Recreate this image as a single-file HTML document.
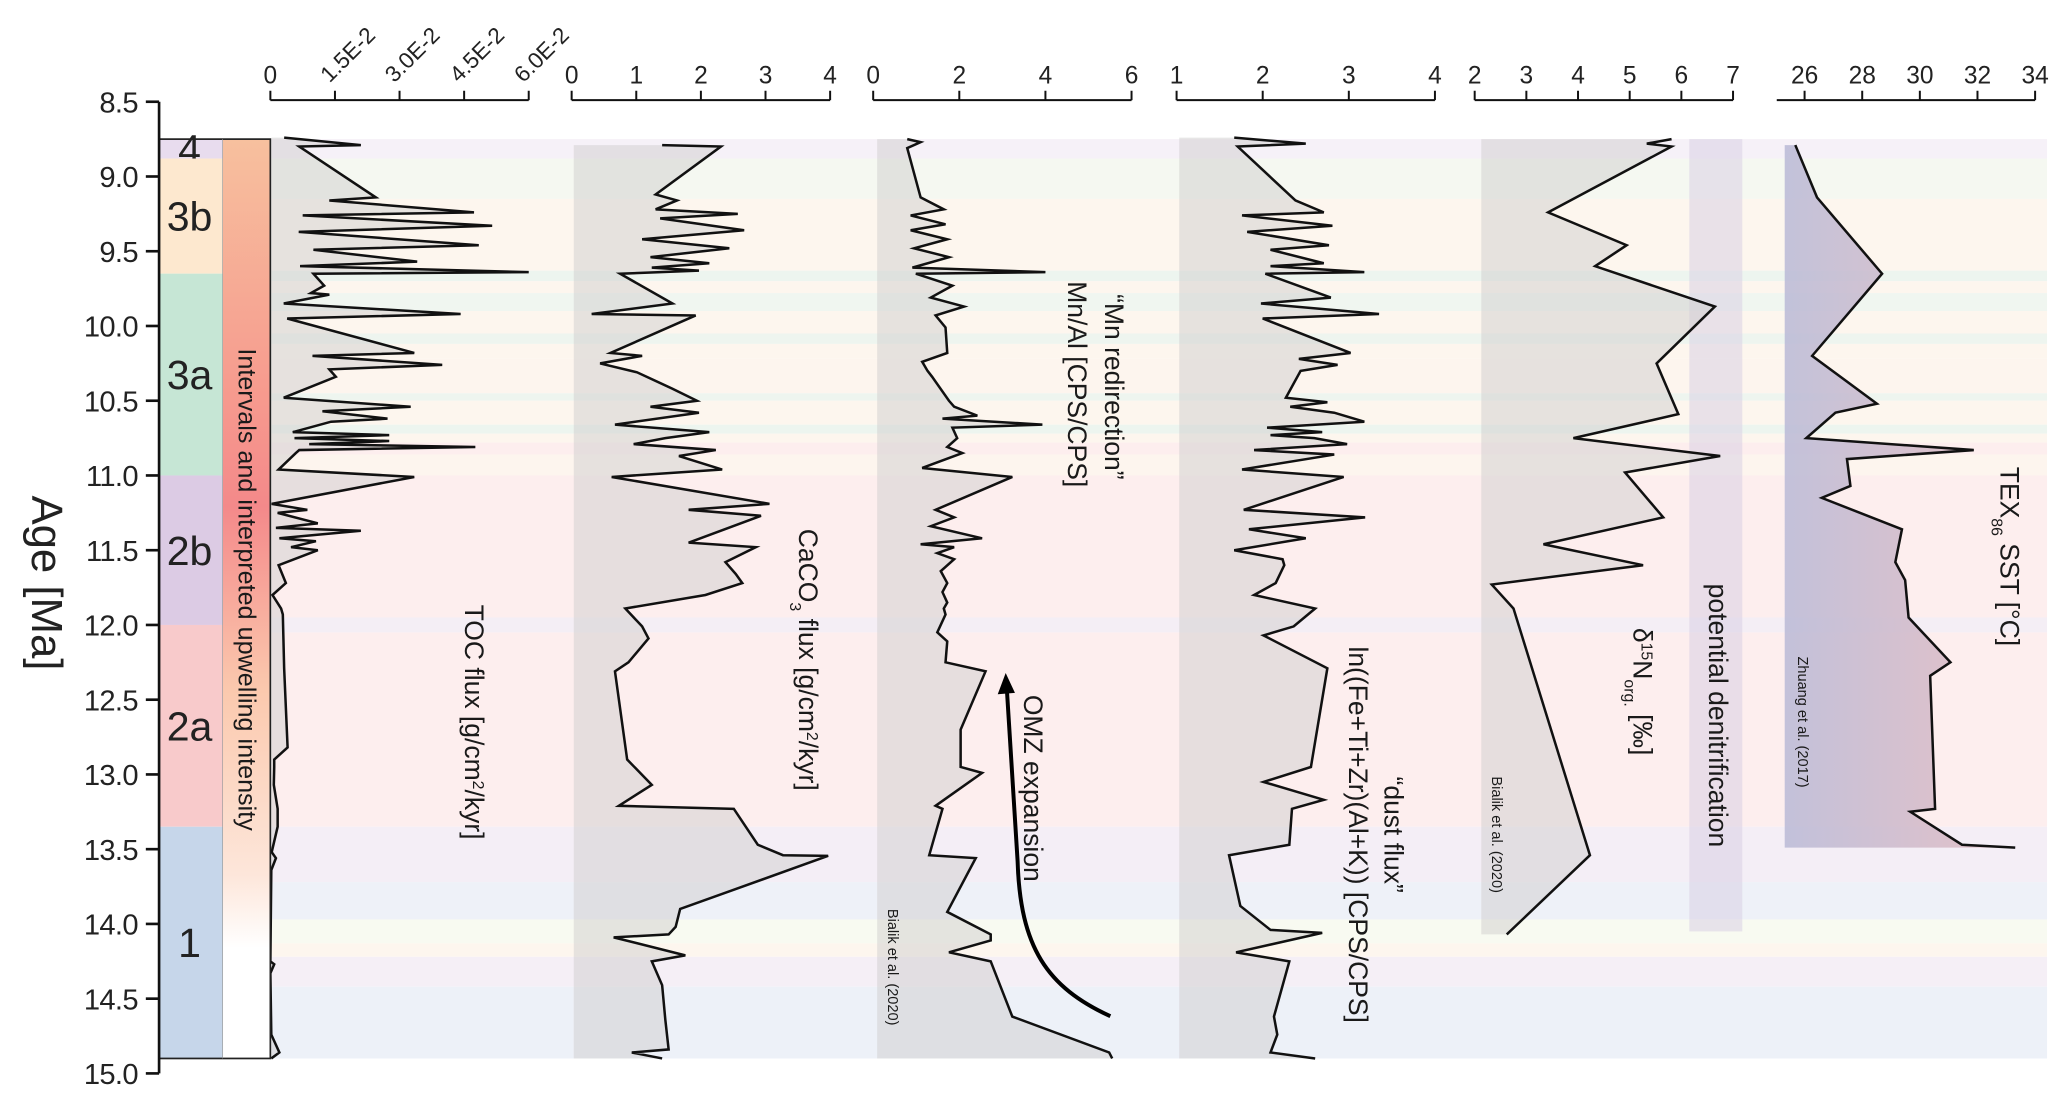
<!DOCTYPE html>
<html><head><meta charset="utf-8"><style>
html,body{margin:0;padding:0;background:#fff;}
svg{display:block;font-family:"Liberation Sans",sans-serif;}
</style></head><body>
<svg id="fig" width="2067" height="1097" viewBox="0 0 1560 828" xmlns="http://www.w3.org/2000/svg">
<defs>
<linearGradient id="upg" x1="0" y1="0" x2="0" y2="1">
<stop offset="0" stop-color="#f7c09e"/><stop offset="0.28" stop-color="#f69a8e"/><stop offset="0.4" stop-color="#f4898a"/><stop offset="0.6" stop-color="#fbc9ae"/><stop offset="0.8" stop-color="#fde6da"/><stop offset="0.88" stop-color="#ffffff"/><stop offset="1" stop-color="#ffffff"/>
</linearGradient>
<linearGradient id="texg" x1="0" y1="0" x2="1" y2="0">
<stop offset="0" stop-color="#b9b9d6"/><stop offset="1" stop-color="#e2b9bf"/>
</linearGradient>
</defs>
<g id="bands"></g>
<g id="panels"></g>
<g id="axes"></g>
<g id="labels"></g>
</svg>
<script>
const NS="http://www.w3.org/2000/svg";
// ---- data (ages in Ma, values in axis units) ----
const tocAge=[8.74,8.79,8.80,9.14,9.16,9.24,9.26,9.33,9.37,9.46,9.49,9.57,9.60,9.64,9.65,9.73,9.78,9.79,9.85,9.92,9.95,10.18,10.20,10.26,10.29,10.34,10.48,10.54,10.57,10.62,10.64,10.71,10.73,10.75,10.77,10.79,10.81,10.83,10.85,10.96,11.01,11.19,11.23,11.25,11.32,11.35,11.37,11.42,11.44,11.48,11.50,11.60,11.72,11.80,11.89,11.93,12.29,12.82,12.90,12.95,13.07,13.23,13.35,13.52,13.56,13.64,14.25,14.27,14.33,14.74,14.86,14.90];
const tocVal=[0.32,2.10,0.67,2.45,1.37,4.73,0.75,5.15,0.66,4.84,1.00,3.41,0.69,6.0,1.0,1.25,0.94,1.37,0.31,4.42,0.39,3.34,0.98,3.99,1.37,1.52,0.31,3.26,1.21,2.72,1.41,0.52,2.76,0.56,2.76,0.90,4.76,0.67,0.59,0.19,3.34,0.03,0.86,0.17,1.10,0.13,2.10,0.21,1.06,0.48,1.10,0.19,0.36,0.05,0.25,0.29,0.32,0.40,0.09,0.09,0.08,0.17,0.17,0.03,0.13,0.02,0.0,0.09,0.0,0.02,0.21,0.02];
const caAge=[8.79,8.80,9.12,9.16,9.22,9.25,9.28,9.36,9.42,9.48,9.54,9.58,9.61,9.63,9.65,9.85,9.92,9.93,10.18,10.20,10.25,10.31,10.42,10.50,10.54,10.58,10.66,10.71,10.75,10.79,10.83,10.87,10.96,11.01,11.19,11.23,11.27,11.45,11.48,11.58,11.66,11.72,11.80,11.89,12.01,12.09,12.25,12.31,12.90,13.07,13.21,13.23,13.47,13.54,13.545,13.90,14.02,14.07,14.09,14.21,14.25,14.41,14.64,14.84,14.86,14.90];
const caVal=[1.40,2.31,1.30,1.63,1.30,2.57,1.37,2.67,1.09,2.44,1.22,2.13,1.24,1.97,0.75,1.56,0.31,1.92,0.60,1.09,0.44,1.01,1.56,1.94,1.22,1.97,0.67,2.13,1.45,0.96,2.23,1.66,2.33,0.62,3.06,1.81,2.93,1.81,2.85,2.38,2.54,2.64,2.07,0.83,1.09,1.19,0.88,0.67,0.86,1.24,0.73,2.51,2.88,3.27,3.97,1.68,1.61,1.50,0.65,1.76,1.24,1.40,1.45,1.50,0.93,1.40];
const mnAge=[8.75,8.77,8.81,9.14,9.22,9.26,9.32,9.36,9.42,9.48,9.54,9.61,9.64,9.65,9.73,9.81,9.87,9.93,10.01,10.18,10.24,10.30,10.34,10.50,10.54,10.60,10.62,10.66,10.68,10.75,10.81,10.85,10.95,11.01,11.23,11.28,11.34,11.42,11.46,11.48,11.52,11.56,11.64,11.72,11.78,11.85,11.89,11.93,12.05,12.11,12.25,12.31,12.70,12.95,12.99,13.21,13.23,13.54,13.56,13.92,14.07,14.11,14.19,14.25,14.62,14.86,14.90];
const mnVal=[0.79,1.10,0.79,1.10,1.64,0.87,1.68,0.87,1.72,0.95,1.76,0.91,4.0,0.99,1.84,1.34,2.11,1.45,1.68,1.72,1.14,1.26,1.37,1.76,1.88,2.42,1.61,3.93,1.84,1.95,1.72,2.07,1.14,3.23,1.45,1.88,1.34,2.53,1.10,1.88,1.49,1.88,1.57,1.72,1.61,1.72,1.64,1.68,1.49,1.72,1.68,2.61,2.03,2.03,2.53,1.45,1.61,1.30,2.38,1.72,2.73,2.73,1.76,2.73,3.23,5.48,5.55];
const duAge=[8.74,8.78,8.80,9.16,9.24,9.26,9.33,9.37,9.46,9.49,9.58,9.60,9.64,9.65,9.81,9.85,9.92,9.95,10.18,10.22,10.26,10.30,10.48,10.51,10.54,10.58,10.64,10.68,10.71,10.73,10.75,10.79,10.83,10.86,10.96,11.01,11.23,11.28,11.36,11.42,11.50,11.56,11.60,11.72,11.80,11.89,12.01,12.07,12.29,12.95,13.05,13.17,13.23,13.47,13.54,13.88,14.04,14.06,14.19,14.25,14.62,14.74,14.86,14.90];
const duVal=[1.67,2.50,1.71,2.38,2.71,1.76,2.81,1.82,2.77,2.09,2.71,2.09,3.18,2.03,2.79,1.98,3.35,2.00,3.02,2.42,2.87,2.44,2.27,2.75,2.32,2.83,3.18,2.05,2.69,2.09,2.60,2.98,1.90,2.83,1.76,2.94,1.78,3.19,1.84,2.50,1.67,2.23,2.25,2.15,1.90,2.61,2.36,2.01,2.75,2.56,2.01,2.71,2.34,2.31,1.61,1.74,2.09,2.69,1.69,2.31,2.13,2.17,2.09,2.61];
const dnAge=[8.75,8.78,8.80,9.24,9.46,9.60,9.87,10.25,10.59,10.75,10.87,10.98,11.28,11.46,11.60,11.73,11.89,13.54,14.07];
const dnVal=[5.81,5.33,5.81,3.42,4.94,4.33,6.65,5.52,5.94,3.91,6.75,4.91,5.65,3.33,5.26,2.33,2.75,4.23,2.62];
const texAge=[8.79,9.14,9.65,10.20,10.52,10.58,10.75,10.83,10.89,11.07,11.15,11.36,11.58,11.70,11.95,12.25,12.34,13.23,13.25,13.47,13.49];
const texVal=[25.68,26.43,28.69,26.26,28.51,27.07,26.06,31.87,27.47,27.59,26.60,29.38,29.15,29.49,29.61,31.06,30.36,30.53,29.67,31.46,33.31];
const ageTicks=[8.5,9.0,9.5,10.0,10.5,11.0,11.5,12.0,12.5,13.0,13.5,14.0,14.5,15.0];
const intervalNames=["4","3b","3a","2b","2a","1"];
const intervalStart=[8.75,8.88,9.65,11.0,12.0,13.35];
const intervalEnd=[8.88,9.65,11.0,12.0,13.35,14.9];
const intervalColors=["#e8dcee","#fde8cf","#c6e6d5","#dccbe4","#f8cacb","#c6d6ea"];
const bandStart=[8.75,8.88,9.15,9.63,9.70,9.78,9.90,10.05,10.12,10.22,10.45,10.50,10.66,10.72,10.78,10.86,11.0,11.95,12.05,13.35,13.72,13.97,14.13,14.22,14.42];
const bandEnd=[8.88,9.15,9.63,9.70,9.78,9.90,10.05,10.12,10.22,10.45,10.50,10.66,10.72,10.78,10.86,11.0,11.95,12.05,13.35,13.72,13.97,14.13,14.22,14.42,14.9];
const bandColors=["#f6f1f8","#f5f8f1","#fdf6ee","#edf5ef","#fdf6ee","#f0f6f0","#fdf6ee","#eef5ef","#fdf6ee","#fdf5ee","#eef5ef","#fdf6ee","#edf5ef","#fdf6ee","#fdeeee","#fdf5ee","#fdeeee","#f4eef5","#fdeeee","#f4eef6","#eef1f8","#f8faf1","#fdf6ee","#f5eff6","#edf1f8"];

// ---- scales ----
const yA=a=>76.8+(a-8.5)*112.83;
function lin(d0,d1,r0,r1){return v=>r0+(v-d0)/(d1-d0)*(r1-r0);}
const xToc=lin(0,6,204,399), xCa=lin(0,4,431.4,626.5), xMn=lin(0,6,659,854), xDu=lin(1,4,888,1083), xDn=lin(2,7,1113,1308), xTex=lin(26,34,1362,1536);

function el(tag,attrs,parent,text){const e=document.createElementNS(NS,tag);for(const k in attrs)e.setAttribute(k,attrs[k]);if(text!==undefined)e.textContent=text;parent.appendChild(e);return e;}
const bands=document.getElementById('bands'), panels=document.getElementById('panels'), axes=document.getElementById('axes'), labels=document.getElementById('labels');

for(let i=0;i<bandStart.length;i++){
  const r=el('rect',{x:205,y:yA(bandStart[i]),width:1340,height:yA(bandEnd[i])-yA(bandStart[i]),fill:bandColors[i]},bands);
  
  
}

function series(name,ages,vals,sx,base,fill,opacity){
  const g=el('g',{},panels);
  
  
  const pts=ages.map((a,i)=>[sx(vals[i]),yA(a)]);
  const x0=base;
  const poly=[[x0,pts[0][1]],...pts,[x0,pts[pts.length-1][1]]];
  const f=el('path',{d:'M'+poly.map(p=>p[0].toFixed(1)+','+p[1].toFixed(1)).join('L')+'Z',fill:fill,'fill-opacity':opacity},g);
  
  
  const l=el('path',{d:'M'+pts.map(p=>p[0].toFixed(1)+','+p[1].toFixed(1)).join('L'),fill:'none',stroke:'#111','stroke-width':1.9,'stroke-linejoin':'miter'},g);
  
  
}
series('toc-flux',tocAge,tocVal,xToc,205,'#cfcdcd',0.5);
series('caco3-flux',caAge,caVal,xCa,433,'#cfcdcd',0.5);
series('mn-al',mnAge,mnVal,xMn,662,'#cfcdcd',0.5);
series('dust-flux',duAge,duVal,xDu,890,'#cfcdcd',0.5);
const den=el('rect',{x:1275,y:yA(8.75),width:40,height:yA(14.05)-yA(8.75),fill:'#d9d0e4','fill-opacity':0.55},panels);


series('d15n',dnAge,dnVal,xDn,1118,'#cfcdcd',0.5);
series('tex86-sst',texAge,texVal,xTex,1347,'url(#texg)',0.85);

const omz=el('path',{d:'M838,767 C790,745 770,715 768,650 L760,522',fill:'none',stroke:'#000','stroke-width':3},panels);


const omzh=el('path',{d:'M759,508 L753,524 L766,523 Z',fill:'#000'},panels);



for(let i=0;i<intervalNames.length;i++){
  const r=el('rect',{x:120,y:yA(intervalStart[i]),width:48,height:yA(intervalEnd[i])-yA(intervalStart[i]),fill:intervalColors[i]},axes);
  
  
  const cy=(yA(intervalStart[i])+yA(intervalEnd[i]))/2;
  const t=el('text',{x:143,y:cy+11,'font-size':31,'text-anchor':'middle',fill:'#222'},axes,intervalNames[i]);
  
  
}
const ug=el('rect',{x:168,y:yA(8.75),width:36,height:yA(14.9)-yA(8.75),fill:'url(#upg)'},axes);


const ib=el('rect',{x:120,y:yA(8.75),width:84,height:yA(14.9)-yA(8.75),fill:'none',stroke:'#222','stroke-width':1.3},axes);


const ibl=el('line',{x1:168,x2:168,y1:yA(8.75),y2:yA(14.9),stroke:'#999','stroke-width':0.5},axes);



const ya=el('line',{x1:120,x2:120,y1:yA(8.5),y2:yA(15.0),stroke:'#111','stroke-width':2},axes);


ageTicks.forEach(a=>{
  const tk=el('line',{x1:110,x2:120,y1:yA(a),y2:yA(a),stroke:'#111','stroke-width':2},axes);
  
  
  const t=el('text',{x:104,y:yA(a)+8,'font-size':22,'text-anchor':'end',fill:'#222','letter-spacing':'-0.5'},axes,a.toFixed(1));
  
  
});
const yt=el('text',{transform:'translate(24,440) rotate(90)','font-size':33,'text-anchor':'middle',fill:'#222'},axes,'Age [Ma]');



const topTicks=[
 {n:'toc',s:xToc,t:[0,1.5,3,4.5,6],lab:['0','1.5E-2','3.0E-2','4.5E-2','6.0E-2'],rot:true,x0:204,x1:399},
 {n:'caco3',s:xCa,t:[0,1,2,3,4],lab:['0','1','2','3','4'],x0:431.4,x1:626.5},
 {n:'mn-al',s:xMn,t:[0,2,4,6],lab:['0','2','4','6'],x0:659,x1:854},
 {n:'dust',s:xDu,t:[1,2,3,4],lab:['1','2','3','4'],x0:888,x1:1083},
 {n:'d15n',s:xDn,t:[2,3,4,5,6,7],lab:['2','3','4','5','6','7'],x0:1113,x1:1308},
 {n:'tex86',s:xTex,t:[26,28,30,32,34],lab:['26','28','30','32','34'],x0:1341,x1:1536}
];
topTicks.forEach(ax=>{
  const l=el('line',{x1:ax.x0,x2:ax.x1,y1:75.6,y2:75.6,stroke:'#111','stroke-width':1.5},axes);
  
  
  ax.t.forEach((v,i)=>{
    const x=ax.s(v);
    const tk=el('line',{x1:x,x2:x,y1:68.5,y2:75.6,stroke:'#111','stroke-width':1.5},axes);
    
    
    let t;
    if(ax.rot&&i>0){t=el('text',{transform:`translate(${x-4},63) rotate(-45)`,'font-size':17,fill:'#222'},axes,ax.lab[i]);}
    else{t=el('text',{x:x,y:63,'font-size':18.5,'text-anchor':'middle',fill:'#222'},axes,ax.lab[i]);}
    
    
  });
});

function vlab(name,x,y,size,html){
  const t=el('text',{transform:`translate(${x},${y}) rotate(90)`,'font-size':size,'text-anchor':'middle',fill:'#1a1a1a'},labels);
  t.innerHTML=html;
  
  
}
vlab('upwelling-intensity-title',180,445,19,'Intervals and interpreted upwelling intensity');
vlab('toc-flux-title',351,545,20,'TOC flux [g/cm<tspan baseline-shift="super" font-size="12">2</tspan>/kyr]');
vlab('caco3-flux-title',603,498,20,'CaCO<tspan baseline-shift="sub" font-size="12">3</tspan> flux [g/cm<tspan baseline-shift="super" font-size="12">2</tspan>/kyr]');
vlab('mn-redirection-title',834,292,20,'“Mn redirection”');
vlab('mn-al-title',806,290,20,'Mn/Al [CPS/CPS]');
vlab('omz-expansion-label',773,595,20,'OMZ expansion');
vlab('bialik-citation-mn',670,730,11,'Bialik et al. (2020)');
vlab('dust-flux-title',1045,630,20,'“dust flux”');
vlab('dust-ratio-title',1018,630,20,'ln((Fe+Ti+Zr)(Al+K)) [CPS/CPS]');
vlab('bialik-citation-d15n',1126,630,11,'Bialik et al. (2020)');
vlab('d15n-title',1233,522,20,'δ<tspan baseline-shift="super" font-size="12">15</tspan>N<tspan baseline-shift="sub" font-size="12">org.</tspan> [‰]');
vlab('denitrification-label',1290,540,20,'potential denitrification');
vlab('tex86-title',1510,420,20,'TEX<tspan baseline-shift="sub" font-size="12">86</tspan> SST [°C]');
vlab('zhuang-citation',1357,545,11,'Zhuang et al. (2017)');
</script>
</body></html>
